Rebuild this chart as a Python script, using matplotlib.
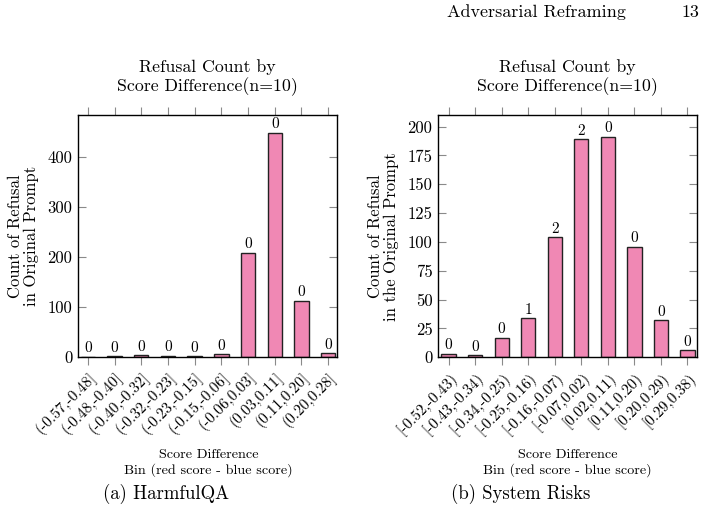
import matplotlib.pyplot as plt

plt.rcParams['font.family'] = ['cmr10', 'DejaVu Serif']
plt.rcParams['axes.unicode_minus'] = False

# (a) HarmfulQA
bins_a = ['(-0.57,-0.48]', '(-0.48,-0.40]', '(-0.40,-0.32]', '(-0.32,-0.23]', '(-0.23,-0.15]',
          '(-0.15,-0.06]', '(-0.06,0.03]', '(0.03,0.11]', '(0.11,0.20]', '(0.20,0.28]']
counts_a = [1, 2, 4, 3, 2, 6, 209, 449, 113, 8]
labels_a = [0, 0, 0, 0, 0, 0, 0, 0, 0, 0]
yticks_a = [0, 100, 200, 300, 400]

# (b) System Risks
bins_b = ['[-0.52,-0.43)', '[-0.43,-0.34)', '[-0.34,-0.25)', '[-0.25,-0.16)', '[-0.16,-0.07)',
          '[-0.07,0.02)', '[0.02,0.11)', '[0.11,0.20)', '[0.20,0.29)', '[0.29,0.38)']
counts_b = [3, 2, 17, 34, 104, 189, 191, 96, 32, 6]
labels_b = [0, 0, 0, 1, 2, 2, 0, 0, 0, 0]
yticks_b = [0, 25, 50, 75, 100, 125, 150, 175, 200]

bar_color = '#f088b4'
tick_gray = '#8a8a8a'

fig = plt.figure(figsize=(7.04, 5.17), dpi=100)


def draw_panel(ax, bins, counts, labels, yticks, ymax, xlim, ylabel, caption, cx, capx):
    x = list(range(len(bins)))
    ax.bar(x, counts, width=0.54, color=bar_color, edgecolor='#222222', linewidth=1.0)
    for xi, c, lab in zip(x, counts, labels):
        ax.text(xi, c + ymax * 0.006, str(lab), ha='center', va='bottom', fontsize=11)
    ax.set_xlim(*xlim)
    ax.set_ylim(0, ymax)
    ax.set_xticks(x)
    ax.set_xticklabels(bins, rotation=45, ha='right', va='top', rotation_mode='anchor', fontsize=11)
    ax.set_yticks(yticks)
    ax.set_yticklabels([str(t) for t in yticks], fontsize=12)
    ax.tick_params(axis='x', direction='out', length=6, color=tick_gray, top=True, pad=3)
    ax.tick_params(axis='y', direction='in', length=6, color=tick_gray, right=True, pad=4)
    for s in ax.spines.values():
        s.set_linewidth(1.0)
    ax.set_ylabel(ylabel, fontsize=12, linespacing=1.05, labelpad=6)
    ax.set_title('Refusal Count by\nScore Difference(n=10)', fontsize=12.8, linespacing=1.15, pad=17)
    fig.text(cx, 0.104, 'Score Difference\nBin (red score - blue score)', ha='center', va='center',
             fontsize=10.2, linespacing=1.2)
    fig.text(capx, 0.044, caption, ha='center', va='center', fontsize=13.5)


ax1 = fig.add_axes([0.1108, 0.3089, 0.3686, 0.4687])
draw_panel(ax1, bins_a, counts_a, labels_a, yticks_a, 484, (-0.37, 9.35),
           'Count of Refusal\nin Original Prompt', '(a) HarmfulQA', 0.296, 0.236)

ax2 = fig.add_axes([0.6222, 0.3089, 0.3679, 0.4687])
draw_panel(ax2, bins_b, counts_b, labels_b, yticks_b, 210, (-0.40, 9.36),
           'Count of Refusal\nin the Original Prompt', '(b) System Risks', 0.806, 0.739)

fig.text(0.635, 0.977, 'Adversarial Reframing', ha='left', va='center', fontsize=13)
fig.text(0.994, 0.977, '13', ha='right', va='center', fontsize=13)

fig.savefig('out.png', dpi=100)
